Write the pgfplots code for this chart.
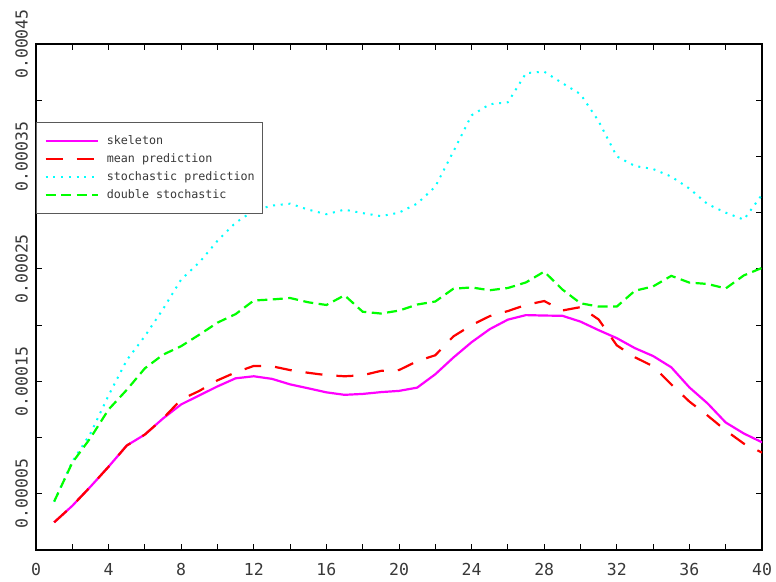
\documentclass[border=0pt]{standalone}
\usepackage{fontspec}
\usepackage{pgfplots}
\pgfplotsset{compat=1.18}
\usepackage{pgfplotstable}
\newfontfamily\monofont{DejaVu Sans Mono}
\definecolor{txtgray}{gray}{0.22}
\definecolor{cmag}{rgb}{1,0,1}
\definecolor{cred}{rgb}{1,0,0}
\definecolor{ccyan}{rgb}{0,1,1}
\definecolor{cgreen}{rgb}{0,1,0}

\pgfplotstableread{
x skel mean stoch dbl
1 2.46e-5 2.46e-5 4.29e-5 4.31e-5
2 3.93e-5 3.93e-5 7.86e-5 7.77e-5
3 5.63e-5 5.63e-5 10.36e-5 9.96e-5
4 7.41e-5 7.41e-5 13.75e-5 12.5e-5
5 9.29e-5 9.29e-5 16.88e-5 14.24e-5
6 10.27e-5 10.27e-5 19.02e-5 16.16e-5
7 11.7e-5 11.7e-5 21.43e-5 17.37e-5
8 12.95e-5 13.39e-5 24.06e-5 18.13e-5
9 13.75e-5 14.15e-5 25.58e-5 19.15e-5
10 14.55e-5 15.09e-5 27.5e-5 20.22e-5
11 15.27e-5 15.8e-5 29.11e-5 20.98e-5
12 15.45e-5 16.37e-5 30.18e-5 22.19e-5
13 15.22e-5 16.34e-5 30.63e-5 22.28e-5
14 14.73e-5 16.0e-5 30.8e-5 22.41e-5
15 14.38e-5 15.76e-5 30.27e-5 22.03e-5
16 14.02e-5 15.55e-5 29.86e-5 21.79e-5
17 13.8e-5 15.45e-5 30.27e-5 22.65e-5
18 13.88e-5 15.54e-5 29.96e-5 21.19e-5
19 14.04e-5 15.93e-5 29.69e-5 21.03e-5
20 14.15e-5 16.0e-5 30.0e-5 21.29e-5
21 14.44e-5 16.79e-5 30.8e-5 21.83e-5
22 15.63e-5 17.32e-5 32.32e-5 22.1e-5
23 17.12e-5 19.0e-5 35.45e-5 23.24e-5
24 18.48e-5 20.0e-5 38.66e-5 23.35e-5
25 19.64e-5 20.8e-5 39.64e-5 23.1e-5
26 20.49e-5 21.25e-5 39.82e-5 23.3e-5
27 20.89e-5 21.8e-5 42.41e-5 23.8e-5
28 20.85e-5 22.14e-5 42.54e-5 24.76e-5
29 20.83e-5 21.3e-5 41.52e-5 23.17e-5
30 20.31e-5 21.6e-5 40.54e-5 21.94e-5
31 19.55e-5 20.5e-5 38.13e-5 21.65e-5
32 18.84e-5 18.2e-5 35.0e-5 21.65e-5
33 17.95e-5 17.14e-5 34.15e-5 23.06e-5
34 17.25e-5 16.34e-5 33.88e-5 23.44e-5
35 16.25e-5 14.73e-5 33.21e-5 24.38e-5
36 14.46e-5 13.2e-5 32.14e-5 23.78e-5
37 13.04e-5 11.96e-5 30.76e-5 23.66e-5
38 11.34e-5 10.63e-5 30.0e-5 23.26e-5
39 10.36e-5 9.46e-5 29.38e-5 24.42e-5
40 9.58e-5 8.66e-5 31.6e-5 25.09e-5
}\datatable

\begin{document}
\begin{tikzpicture}
\useasboundingbox (-36pt,-31pt) rectangle (740pt,550pt);
\begin{axis}[
  at={(0pt,0pt)}, anchor=south west,
  scale only axis, width=726pt, height=506pt,
  xmin=0, xmax=40, ymin=0, ymax=0.00045,
  xtick={0,4,8,12,16,20,24,28,32,36,40},
  xticklabels={0,4,8,12,16,20,24,28,32,36,40},
  minor xtick={2,6,10,14,18,22,26,30,34,38},
  ytick={0.00005,0.00015,0.00025,0.00035,0.00045},
  yticklabels={0.00005,0.00015,0.00025,0.00035,0.00045},
  minor ytick={0.0001,0.0002,0.0003,0.0004},
  scaled y ticks=false, scaled x ticks=false,
  tick align=inside, tick pos=both,
  major tick length=6pt, minor tick length=6pt,
  every tick/.style={black, line width=1pt},
  axis line style={black, line width=1.4pt},
  ticklabel style={font=\monofont\fontsize{16.5}{18}\selectfont, text=txtgray},
  xticklabel style={anchor=north, inner sep=0pt},
  xticklabel shift=13pt,
  yticklabel style={rotate=90, anchor=south, inner sep=0pt},
  yticklabel shift=8pt,
  no markers,
  legend cell align=left,
  legend image code/.code={\draw[#1] (0pt,0pt) -- (52pt,0pt);},
  legend style={at={(0,0.846)}, anchor=north west, draw=black!65, line width=1.2pt,
    fill=white, inner xsep=8pt, inner ysep=13pt, row sep=7pt, column sep=8pt,
    nodes={inner sep=0pt, text height=8.5pt, text depth=2.5pt,
      font=\monofont\fontsize{11.7}{13}\selectfont, text=txtgray}},
]
\addplot[cmag, line width=2.2pt, solid] table[x=x, y=skel] {\datatable};
\addlegendentry{skeleton}
\addplot[cred, line width=2.2pt, dash pattern=on 17pt off 14pt] table[x=x, y=mean] {\datatable};
\addlegendentry{mean prediction}
\addplot[ccyan, line width=2pt, dash pattern=on 2pt off 5.7pt] table[x=x, y=stoch] {\datatable};
\addlegendentry{stochastic prediction}
\addplot[cgreen, line width=2.2pt, dash pattern=on 10pt off 5.5pt] table[x=x, y=dbl] {\datatable};
\addlegendentry{double stochastic}
\end{axis}
\end{tikzpicture}
\end{document}
